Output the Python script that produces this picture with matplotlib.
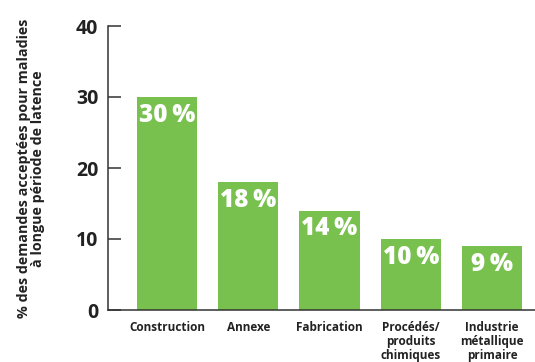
import matplotlib.pyplot as plt

# données
secteurs = ["Construction", "Annexe", "Fabrication", "Procédés/\nproduits\nchimiques", "Industrie\nmétallique\nprimaire"]
pourcentages = [30, 18, 14, 10, 9]
etiquettes = ["30\u2009%", "18\u2009%", "14\u2009%", "10\u2009%", "9\u2009%"]
graduations = [0, 10, 20, 30, 40]

vert = '#79c14f'
gris = '#333333'

plt.rcParams['font.family'] = ['Open Sans', 'DejaVu Sans']

fig = plt.figure(figsize=(5.35, 3.62), dpi=100)
ax = fig.add_axes([108/535, 52/362, 427/535, 284/362])

x = list(range(len(secteurs)))
ax.bar(x, pourcentages, width=0.74, color=vert)

for xi, v, lab in zip(x, pourcentages, etiquettes):
    ax.text(xi, v - 0.8, lab, ha='center', va='top', color='white',
            fontsize=17.5, fontweight='heavy')

ax.set_xlim(-0.726, 4.53)
ax.set_ylim(0, 40)
ax.set_yticks(graduations)
ax.set_yticklabels([str(g) for g in graduations], fontsize=14, fontweight='bold', color='#222222')
ax.set_xticks(x)
ax.set_xticklabels(secteurs, fontsize=8.5, fontweight='bold', color='#222222', linespacing=1.1)

ax.tick_params(axis='y', direction='in', length=9, width=1.1, color=gris, pad=7)
ax.tick_params(axis='x', length=0, pad=8)

for s in ['top', 'right']:
    ax.spines[s].set_visible(False)
for s in ['left', 'bottom']:
    ax.spines[s].set_color(gris)
    ax.spines[s].set_linewidth(1.1)

fig.text(0.058, 0.535, "% des demandes acceptées pour maladies\nà longue période de latence",
         rotation=90, ha='center', va='center', fontsize=10.3, fontweight='bold',
         color='#222222', linespacing=1.0)

fig.savefig('out.png', dpi=100)
